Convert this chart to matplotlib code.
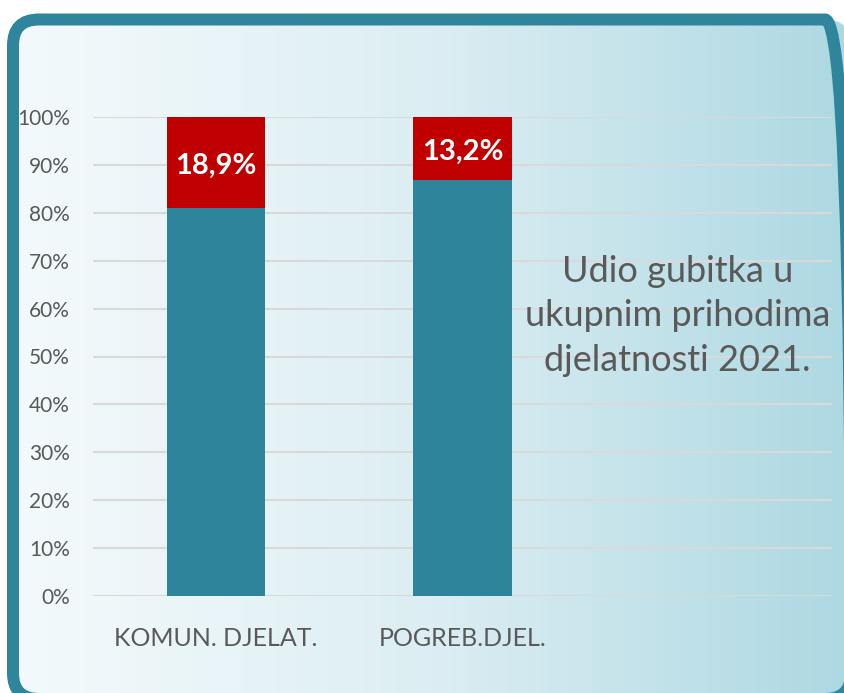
import numpy as np
import matplotlib
matplotlib.use("Agg")
import matplotlib.pyplot as plt
from matplotlib.patches import FancyBboxPatch
from matplotlib.colors import LinearSegmentedColormap

categories = ["KOMUN. DJELAT.", "POGREB.DJEL.", ""]
loss_share = [18.9, 13.2]
rest_share = [100 - v for v in loss_share]
loss_labels = ["18,9%", "13,2%"]
yticks = list(range(0, 101, 10))
ytick_labels = [f"{v}%" for v in yticks]
note_text = "Udio gubitka u\nukupnim prihodima\ndjelatnosti 2021."

W, H = 845, 693
fig = plt.figure(figsize=(W / 100, H / 100), dpi=100)
fig.patch.set_facecolor("white")

FONT = ["Lato", "DejaVu Sans"]
plt.rcParams["font.family"] = FONT

# background frame axes (pixel coordinates, origin bottom-left)
bg = fig.add_axes([0, 0, 1, 1])
bg.axis("off")
cmap = LinearSegmentedColormap.from_list("g", ["#F4FAFC", "#DCEEF3", "#ADD8E2"])
grad = np.linspace(0, 1, 256).reshape(1, -1)
top = H - 19.5
bottom = -6
left, right = 13, 851
im = bg.imshow(grad, cmap=cmap, extent=[left, right, bottom, top], aspect="auto",
               origin="lower", zorder=0)
frame = FancyBboxPatch((left, bottom), right - left, top - bottom,
                       boxstyle="round,pad=0,rounding_size=26",
                       facecolor="none", edgecolor="#2E859C", linewidth=12 * 0.72, zorder=2)
bg.add_patch(frame)
im.set_clip_path(frame)
bg.set_xlim(0, W)
bg.set_ylim(0, H)

# chart axes
x0, x1 = 93, 832
y0, y1 = 596, 117
ax = fig.add_axes([x0 / W, 1 - y0 / H, (x1 - x0) / W, (y0 - y1) / H])
ax.patch.set_alpha(0)
xpos = np.arange(len(categories))
ax.set_xlim(-0.5, 2.5)
ax.set_ylim(0, 100)
ax.bar(xpos[:2], rest_share, width=0.4, color="#2E849B", zorder=3)
ax.bar(xpos[:2], loss_share, bottom=rest_share, width=0.4, color="#C00000", zorder=3)
for i, (b, v, lab) in enumerate(zip(rest_share, loss_share, loss_labels)):
    ax.text(xpos[i], b + v / 2 - 0.7, lab, ha="center", va="center", color="white",
            fontsize=21, fontweight="bold", zorder=4)

ax.set_yticks(yticks)
ax.set_yticklabels(ytick_labels)
ax.set_xticks(xpos)
ax.set_xticklabels(categories)
ax.grid(axis="y", color="#D9D9D9", linewidth=1.5, zorder=1)
ax.tick_params(axis="y", length=0, pad=16.5, labelsize=15, labelcolor="#595959")
ax.tick_params(axis="x", length=0, pad=22, labelsize=18, labelcolor="#595959")
for s in ax.spines.values():
    s.set_visible(False)

ax.text(1.873, 58.5, note_text, ha="center", va="center", fontsize=26, color="#595959",
        linespacing=1.42)

fig.savefig("out.png", dpi=100)
